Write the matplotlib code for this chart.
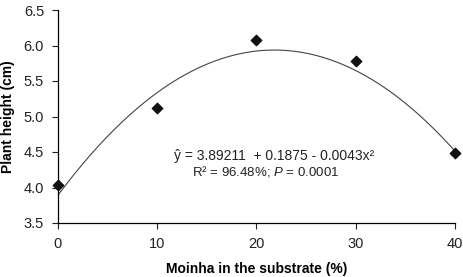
import numpy as np
import matplotlib.pyplot as plt

plt.rcParams['font.family'] = ['Liberation Sans', 'DejaVu Sans']
plt.rcParams['mathtext.fontset'] = 'custom'
plt.rcParams['mathtext.it'] = 'Liberation Sans:italic'
plt.rcParams['mathtext.rm'] = 'Liberation Sans'

moinha = [0, 10, 20, 30, 40]
height = [4.03, 5.12, 6.08, 5.78, 4.49]
coef = [3.89211, 0.1875, -0.0043]

fig = plt.figure(figsize=(4.64, 2.77), dpi=100)
ax = fig.add_axes([58/464, 1-223/277, 397/464, 213/277])

xs = np.linspace(0, 40, 200)
ax.plot(xs, coef[0] + coef[1]*xs + coef[2]*xs**2, color='#444444', lw=0.8)
ax.scatter(moinha, height, marker='D', s=28, color='#111111', zorder=3, clip_on=False)

ax.set_xlim(0, 40)
ax.set_ylim(3.5, 6.5)
ax.set_xticks([0, 10, 20, 30, 40])
ax.set_yticks(np.arange(3.5, 6.51, 0.5))
ax.yaxis.set_major_formatter(plt.FormatStrFormatter('%.1f'))
for s in ['top', 'right']:
    ax.spines[s].set_visible(False)
for s in ['left', 'bottom']:
    ax.spines[s].set_linewidth(0.9)
ax.tick_params(labelsize=10.5, colors='#222222', length=4, width=0.8, pad=6)

ax.set_xlabel('Moinha in the substrate (%)', fontsize=10, fontweight='bold', labelpad=8)
ax.set_ylabel('Plant height (cm)', fontsize=10, fontweight='bold', labelpad=6)

ax.text(21.8, 4.45, 'ŷ = 3.89211  + 0.1875 - 0.0043x²', ha='center', va='center', fontsize=10, color='#222222')
ax.text(20.9, 4.22, 'R² = 96.48%; $P$ = 0.0001', ha='center', va='center', fontsize=9.5, color='#222222')

fig.savefig('out.png', dpi=100)
